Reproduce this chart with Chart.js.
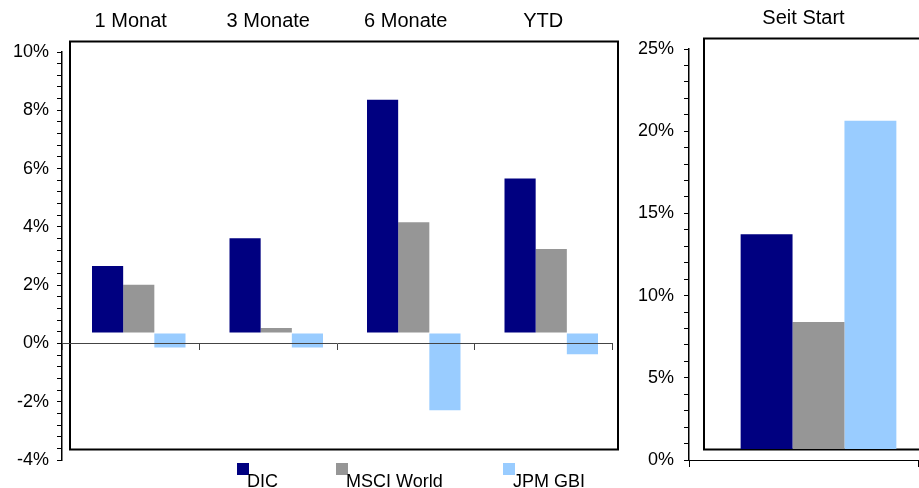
<!DOCTYPE html>
<html>
<head>
<meta charset="utf-8">
<script src="https://cdn.jsdelivr.net/npm/chart.js@4.4.1/dist/chart.umd.min.js"></script>
<style>
  html, body { margin: 0; padding: 0; background: #fff; overflow: hidden; }
  body { position: relative; width: 919px; height: 488px; font-family: "Liberation Sans", Arial, sans-serif; }
  #wrapL { position: absolute; left: 0; top: 0; }
  #wrapR { position: absolute; left: 630px; top: 0; }
  .lg { position: absolute; top: 463px; height: 25px; }
  .lg i { position: absolute; left: 0; top: 0; width: 12px; height: 12px; }
  .lg span { position: absolute; left: 10px; top: 9px; font-size: 18px; line-height: 18px; white-space: nowrap; color: #000; }
</style>
</head>
<body>
<div id="wrapL"><canvas id="left" width="630" height="488"></canvas></div>
<div id="wrapR"><canvas id="right" width="310" height="488"></canvas></div>
<div id="legend"></div>
<script>
  // data (percent)
  const CATEGORIES = ['1 Monat', '3 Monate', '6 Monate', 'YTD'];
  const SERIES = ['DIC', 'MSCI World', 'JPM GBI'];
  const DIC_VALUES = [2.3, 3.25, 8.0, 5.3];
  const MSCI_VALUES = [1.65, 0.17, 3.8, 2.88];
  const JPM_VALUES = [-0.5, -0.5, -2.65, -0.73];
  const START_CATEGORY = ['Seit Start'];
  const START_VALUES = [13.1, 7.75, 20.0]; // DIC, MSCI World, JPM GBI
  const LEFT_RANGE = [-4, 10];   // min, max
  const LEFT_STEPS = [0.4, 2];   // minor tick, labelled tick
  const RIGHT_RANGE = [0, 25];
  const RIGHT_STEPS = [1, 5];

  const COLORS = ['#000080', '#969696', '#99ccff'];
  const FONT = '"Liberation Sans", Arial, sans-serif';

  Chart.defaults.font.family = FONT;
  Chart.defaults.color = '#000';

  // Excel-style back wall: frame and bars sit shifted up/right from the axes
  function backWall(dx, dy, dxRight) {
    return {
      id: 'backWall',
      beforeDatasetsDraw(chart) {
        const a = chart.chartArea, ctx = chart.ctx;
        ctx.save();
        ctx.strokeStyle = '#000';
        ctx.lineWidth = 2;
        ctx.strokeRect(a.left + dx, a.top + dy, (a.right + dxRight) - (a.left + dx), a.bottom - a.top);
        ctx.restore();
        ctx.save();
        ctx.translate(dx, dy);
      },
      afterDatasetsDraw(chart) { chart.ctx.restore(); },
    };
  }

  function yScale(range, steps, width, pad) {
    const [step, every] = steps;
    return {
      min: range[0], max: range[1],
      afterFit: s => { s.width = width; },
      border: { color: '#000', width: 1.5 },
      grid: { drawOnChartArea: false, color: '#000', tickLength: 5 },
      ticks: {
        stepSize: step, autoSkip: false, padding: pad, font: { size: 18 },
        callback: v => Math.abs(v / every - Math.round(v / every)) < 1e-6 ? Math.round(v) + '%' : '',
      },
    };
  }

  function xScale(lineColor) {
    return {
      position: { y: 0 },
      offset: true,
      afterFit: s => { s.height = 0; },
      border: { color: lineColor, width: 1, z: 1 },
      grid: { offset: true, drawOnChartArea: false, tickLength: 6, color: lineColor, z: 1 },
      ticks: { display: false },
    };
  }

  function topScale(labels, height) {
    return {
      type: 'category', labels, position: 'top', offset: true,
      afterFit: s => { s.height = height; },
      grid: { display: false, drawTicks: false },
      border: { display: false },
      ticks: { font: { size: 20 }, padding: 19 },
    };
  }

  function bars(label, data, color) {
    return {
      label, data, backgroundColor: color, borderWidth: 0,
      categoryPercentage: 0.68, barPercentage: 1.0, xAxisID: 'x', yAxisID: 'y',
    };
  }

  const common = {
    responsive: false,
    animation: false,
    plugins: { legend: { display: false }, tooltip: { enabled: false } },
  };

  new Chart(document.getElementById('left'), {
    type: 'bar',
    data: {
      labels: CATEGORIES,
      datasets: [
        bars(SERIES[0], DIC_VALUES, COLORS[0]),
        bars(SERIES[1], MSCI_VALUES, COLORS[1]),
        bars(SERIES[2], JPM_VALUES, COLORS[2]),
      ],
    },
    options: {
      ...common,
      layout: { padding: { left: 0, right: 18, top: 0, bottom: 28 } },
      scales: {
        x: xScale('#444'),
        x2: topScale(CATEGORIES, 52),
        y: yScale(LEFT_RANGE, LEFT_STEPS, 62, 8),
      },
    },
    plugins: [backWall(8, -10.5, 6)],
  });

  new Chart(document.getElementById('right'), {
    type: 'bar',
    data: {
      labels: START_CATEGORY,
      datasets: SERIES.map((s, i) => bars(s, [START_VALUES[i]], COLORS[i])),
    },
    options: {
      ...common,
      layout: { padding: { left: 0, right: 22, top: 0, bottom: 28 } },
      scales: {
        x: xScale('#000'),
        x2: topScale(START_CATEGORY, 49),
        y: yScale(RIGHT_RANGE, RIGHT_STEPS, 59, 10),
      },
    },
    plugins: [backWall(15, -10.5, 15)],
  });

  // legend: swatch with its text hanging below-right, as in the source
  const LEGEND_X = [237, 336, 503];
  document.getElementById('legend').innerHTML = SERIES.map((s, i) =>
    `<div class="lg" style="left:${LEGEND_X[i]}px"><i style="background:${COLORS[i]}"></i><span>${s}</span></div>`
  ).join('');
</script>
</body>
</html>
